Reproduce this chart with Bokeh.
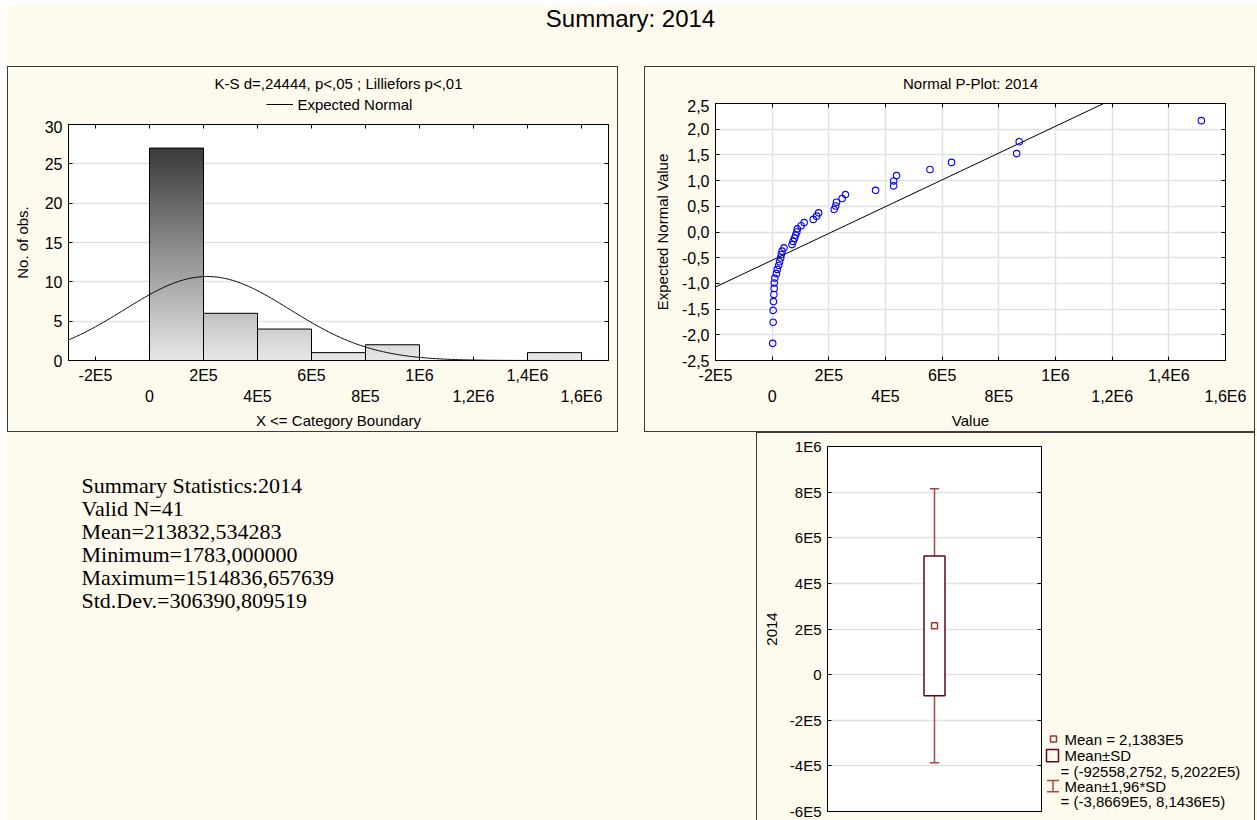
import numpy as np
from bokeh.plotting import figure
from bokeh.models import (Range1d, LinearAxis, FixedTicker, Label, Spacer, Grid)
from bokeh.layouts import column, row
from bokeh.embed import file_html
from bokeh.resources import INLINE

# ---------------- data ----------------
title_text = "Summary: 2014"
hist_title = "K-S d=,24444, p<,05 ; Lilliefors p<,01"
hist_legend = "Expected Normal"
pplot_title = "Normal P-Plot: 2014"

bin_left = [0, 200000, 400000, 600000, 800000, 1000000, 1200000, 1400000]
bin_right = [200000, 400000, 600000, 800000, 1000000, 1200000, 1400000, 1600000]
counts = [27, 6, 4, 1, 2, 0, 0, 1]
bin_width = 200000

x_ticks = [-200000, 0, 200000, 400000, 600000, 800000, 1000000, 1200000, 1400000, 1600000]
x_tick_labels = ["-2E5", "0", "2E5", "4E5", "6E5", "8E5", "1E6", "1,2E6", "1,4E6", "1,6E6"]
hist_y_ticks = [0, 5, 10, 15, 20, 25, 30]

n_obs = 41
mean_val = 213832.534283
std_val = 306390.809519

values = [1783, 3600, 3600, 4500, 6000, 7000, 7500, 9500, 15000, 18000,
          23000, 26000, 30000, 32000, 35000, 42000, 70000, 74000, 79000, 83000,
          87000, 89000, 102000, 113000, 145000, 157000, 164000, 219000, 224000, 227000,
          247000, 259000, 365000, 429000, 429000, 439000, 557000, 633000, 863000, 872000,
          1514837]
expected_z = [-2.166, -1.757, -1.525, -1.354, -1.215, -1.097, -0.992, -0.897, -0.810, -0.728,
              -0.651, -0.578, -0.507, -0.439, -0.373, -0.308, -0.245, -0.183, -0.122, -0.061,
              0.000, 0.061, 0.122, 0.183, 0.245, 0.308, 0.373, 0.439, 0.507, 0.578,
              0.651, 0.728, 0.810, 0.897, 0.992, 1.097, 1.215, 1.354, 1.525, 1.757,
              2.166]
fit_x = [-200000, 1170000]
fit_z = [-1.07, 2.5]
pp_y_ticks = [-2.5, -2.0, -1.5, -1.0, -0.5, 0.0, 0.5, 1.0, 1.5, 2.0, 2.5]
pp_y_labels = ["-2,5", "-2,0", "-1,5", "-1,0", "-0,5", "0,0", "0,5", "1,0", "1,5", "2,0", "2,5"]

box_y_ticks = [-600000, -400000, -200000, 0, 200000, 400000, 600000, 800000, 1000000]
box_y_labels = ["-6E5", "-4E5", "-2E5", "0", "2E5", "4E5", "6E5", "8E5", "1E6"]

summary_lines = ["Summary Statistics:2014", "Valid N=41", "Mean=213832,534283",
                 "Minimum=1783,000000", "Maximum=1514836,657639", "Std.Dev.=306390,809519"]
box_legend_texts = ["Mean = 2,1383E5", "Mean\u00b1SD", "= (-92558,2752, 5,2022E5)",
                    "Mean\u00b11,96*SD", "= (-3,8669E5, 8,1436E5)"]

# ---------------- styles ----------------
CREAM = "#FFFAEE"
FONT = "Liberation Sans"
SERIF = "Liberation Serif"
GRID = "#e2e2e2"
BORDER_CSS = (":host::after { content: ''; position: absolute; left: 0; top: 0; right: 0; "
              "bottom: 0; border: 1px solid #3c3c3c; pointer-events: none; z-index: 100; }")
BORDER_CSS_NOBOTTOM = (":host::after { content: ''; position: absolute; left: 0; top: 0; "
                       "right: 0; bottom: 0; border: 1px solid #3c3c3c; border-bottom: none; "
                       "pointer-events: none; z-index: 100; }")
TICK_FS = "16px"


def style_axis(ax, size=TICK_FS):
    ax.major_label_text_font = FONT
    ax.major_label_text_font_size = size
    ax.major_label_text_color = "black"
    ax.axis_label_text_font = FONT
    ax.axis_label_text_font_style = "normal"
    ax.axis_label_text_font_size = "15px"
    ax.axis_label_text_color = "black"
    ax.axis_line_color = "black"
    ax.major_tick_line_color = "black"
    ax.major_tick_in = 4
    ax.major_tick_out = 0
    ax.minor_tick_line_color = "black"
    ax.minor_tick_in = 4
    ax.minor_tick_out = 0


def tick_only_axis(ticks):
    # no labelled (major) ticks, only unlabelled inward tick marks
    ax = LinearAxis(ticker=FixedTicker(ticks=[], minor_ticks=list(ticks)))
    style_axis(ax)
    ax.major_label_standoff = 0
    return ax


def two_row_axes(p, ticks, labels, axis_label):
    ev_t = ticks[0::2]
    od_t = ticks[1::2]
    ev_l = labels[0::2]
    od_l = labels[1::2]
    a1 = LinearAxis(ticker=FixedTicker(ticks=ev_t, minor_ticks=od_t),
                    major_label_overrides=dict(zip(ev_t, ev_l)))
    style_axis(a1)
    a1.major_label_standoff = 6
    a2 = LinearAxis(ticker=FixedTicker(ticks=od_t, minor_ticks=[]),
                    major_label_overrides=dict(zip(od_t, od_l)), axis_label=axis_label)
    style_axis(a2)
    a2.axis_line_color = None
    a2.major_tick_line_color = None
    a2.minor_tick_line_color = None
    a2.major_label_standoff = 1
    a2.axis_label_standoff = 4
    p.add_layout(a1, "below")
    p.add_layout(a2, "below")
    p.add_layout(tick_only_axis(ticks), "above")


def blank_fig(w, h):
    return figure(width=w, height=h, x_range=Range1d(0, w), y_range=Range1d(h, 0),
                  x_axis_type=None, y_axis_type=None, toolbar_location=None,
                  output_backend="svg", min_border=0, outline_line_color=None,
                  background_fill_color=CREAM, border_fill_color=CREAM)


def plot_fig(w, h, xr, yr, l, r, t, b):
    return figure(width=w, height=h, x_range=Range1d(*xr), y_range=Range1d(*yr),
                  x_axis_type=None, y_axis_type=None, toolbar_location=None,
                  output_backend="svg", min_border_left=l, min_border_right=r,
                  min_border_top=t, min_border_bottom=b, background_fill_color="white",
                  border_fill_color=CREAM, outline_line_color="black")


# ---------------- title ----------------
TOT_W = 1250
title_fig = blank_fig(TOT_W, 61)
title_fig.add_layout(Label(x=TOT_W / 2 - 2, y=13, text=title_text, text_align="center",
                           text_baseline="middle", text_font=FONT, text_font_size="24px",
                           text_color="black"))

# ---------------- histogram panel ----------------
PW, PH = 611, 366
H_HDR = 54
hist_hdr = blank_fig(PW, H_HDR)
hist_hdr.add_layout(Label(x=PW / 2, y=17, text=hist_title, text_align="center",
                          text_baseline="middle", text_font=FONT, text_font_size="15px",
                          text_color="black"))
hist_hdr.segment(x0=[224], y0=[38], x1=[254], y1=[38], line_color="black", line_width=1)
hist_hdr.add_layout(Label(x=259, y=38, text=hist_legend, text_baseline="middle",
                          text_font=FONT, text_font_size="15px", text_color="black"))

hx0, hx1 = -300000, 1700000
hist = plot_fig(PW, PH - H_HDR, (hx0, hx1), (0, 30), 61, 10, 4, 72)
hist.add_layout(Grid(dimension=1, ticker=FixedTicker(ticks=hist_y_ticks),
                     grid_line_color=GRID, grid_line_width=1.5))
ly = LinearAxis(ticker=FixedTicker(ticks=hist_y_ticks), axis_label="No. of obs.")
style_axis(ly)
ly.major_label_standoff = 6
ly.axis_label_standoff = 11
hist.add_layout(ly, "left")
hist.add_layout(tick_only_axis(hist_y_ticks), "right")
two_row_axes(hist, x_ticks, x_tick_labels, "X <= Category Boundary")

cmax = max(counts)


def gray_at(yv):
    t = yv / cmax
    v = int(round(232 - t * (232 - 58)))
    return "#%02x%02x%02x" % (v, v, v)


step = 0.1
sl, sr, sb, st, sc = [], [], [], [], []
for l, r, c in zip(bin_left, bin_right, counts):
    for k in range(int(round(c / step))):
        y0 = k * step
        sl.append(l); sr.append(r); sb.append(y0); st.append(c)
        sc.append(gray_at(y0 + step / 2))
hist.quad(left=sl, right=sr, bottom=sb, top=st, fill_color=sc, line_color=None)
ol = [(l, r, c) for l, r, c in zip(bin_left, bin_right, counts) if c > 0]
hist.quad(left=[o[0] for o in ol], right=[o[1] for o in ol], bottom=0,
          top=[o[2] for o in ol], fill_color=None, line_color="black", line_width=1)

xs = np.linspace(hx0, hx1, 400)
ys = n_obs * bin_width * np.exp(-0.5 * ((xs - mean_val) / std_val) ** 2) / (std_val * np.sqrt(2 * np.pi))
hist.line(xs, ys, line_color="black", line_width=1)

hist_panel = column(hist_hdr, hist, stylesheets=[BORDER_CSS])

# ---------------- normal p-plot panel ----------------
P_HDR = 33
pp_hdr = blank_fig(PW, P_HDR)
pp_hdr.add_layout(Label(x=PW / 2, y=17, text=pplot_title, text_align="center",
                        text_baseline="middle", text_font=FONT, text_font_size="15px",
                        text_color="black"))
px0, px1 = -200000, 1600000
pp = plot_fig(PW, PH - P_HDR, (px0, px1), (-2.5, 2.5), 71, 30, 4, 72)
pp.add_layout(Grid(dimension=1, ticker=FixedTicker(ticks=pp_y_ticks),
                   grid_line_color=GRID, grid_line_width=1.5))
pp.add_layout(Grid(dimension=0, ticker=FixedTicker(ticks=x_ticks),
                   grid_line_color=GRID, grid_line_width=1.5))
pyl = LinearAxis(ticker=FixedTicker(ticks=pp_y_ticks), axis_label="Expected Normal Value",
                 major_label_overrides=dict(zip(pp_y_ticks, pp_y_labels)))
style_axis(pyl)
pyl.major_label_standoff = 6
pyl.axis_label_standoff = 8
pp.add_layout(pyl, "left")
pp.add_layout(tick_only_axis(pp_y_ticks), "right")
two_row_axes(pp, x_ticks, x_tick_labels, "Value")

pp.line(fit_x, fit_z, line_color="black", line_width=1)
pp.scatter(values, expected_z, marker="circle", size=6.5, fill_color=None,
           line_color="#0000ff", line_width=1.1)
pp_panel = column(pp_hdr, pp, stylesheets=[BORDER_CSS])

# ---------------- summary text ----------------
T_W, T_H = 749, 388
txt = blank_fig(T_W, T_H)
for i, line in enumerate(summary_lines):
    txt.add_layout(Label(x=74, y=53 + 23 * i, text=line, text_baseline="middle",
                         text_font=SERIF, text_font_size="22px", text_color="black"))

# ---------------- box plot ----------------
B_W, B_H = 286, 388
box = plot_fig(B_W, B_H, (0, 1), (-600000, 1000000), 71, 1, 14, 9)
box.add_layout(Grid(dimension=1, ticker=FixedTicker(ticks=box_y_ticks),
                    grid_line_color=GRID, grid_line_width=1.5))
byl = LinearAxis(ticker=FixedTicker(ticks=box_y_ticks), axis_label="2014",
                 major_label_overrides=dict(zip(box_y_ticks, box_y_labels)))
style_axis(byl, "15px")
byl.major_label_standoff = 6
byl.axis_label_standoff = 10
box.add_layout(byl, "left")
box.add_layout(tick_only_axis(box_y_ticks), "right")

BOXC = "#5e0a14"
WHC = "#b04545"
MEANC = "#a83232"
lo_sd, hi_sd = mean_val - std_val, mean_val + std_val
lo_196, hi_196 = mean_val - 1.96 * std_val, mean_val + 1.96 * std_val
box.segment(x0=[0.5, 0.5], y0=[hi_sd, lo_sd], x1=[0.5, 0.5], y1=[hi_196, lo_196],
            line_color=WHC, line_width=1.5)
box.segment(x0=[0.478, 0.478], y0=[hi_196, lo_196], x1=[0.522, 0.522], y1=[hi_196, lo_196],
            line_color=WHC, line_width=1.5)
box.quad(left=[0.451], right=[0.549], bottom=[lo_sd], top=[hi_sd], fill_color="white",
         line_color=BOXC, line_width=1.5)
box.scatter([0.5], [mean_val], marker="square", size=6, fill_color=None,
            line_color=MEANC, line_width=1.5)

# legend area next to the box plot
G_W = 499 - B_W
lg = blank_fig(G_W, B_H)
lg.scatter([11], [311], marker="square", size=6, fill_color=None, line_color=MEANC,
           line_width=1.5)
lg.quad(left=[4], right=[16], top=[322], bottom=[335], fill_color=None, line_color=BOXC,
        line_width=1.5)
lg.segment(x0=[10.5, 4.5, 4.5], y0=[355, 355, 367], x1=[10.5, 16.5, 16.5], y1=[367, 355, 367],
           line_color=WHC, line_width=1.5)
legend_pos = [(22, 311), (22, 328), (18, 345), (22, 361), (18, 377)]
for (lx, lyy), t in zip(legend_pos, box_legend_texts):
    lg.add_layout(Label(x=lx, y=lyy, text=t, text_baseline="middle", text_font=FONT,
                        text_font_size="15px", text_color="black"))

box_panel = row(box, lg, stylesheets=[BORDER_CSS_NOBOTTOM])

layout = column(
    title_fig,
    row(hist_panel, Spacer(width=26, height=PH), pp_panel),
    row(txt, box_panel),
    styles={"background-color": CREAM},
    margin=(5, 0, 0, 7),
)

open("out.html", "w").write(file_html(layout, INLINE))
